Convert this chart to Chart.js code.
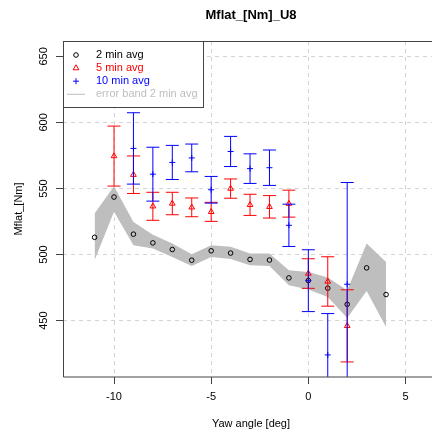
<!DOCTYPE html>
<html lang="en">
<head>
<meta charset="UTF-8">
<title>Mflat_[Nm]_U8</title>
<script src="https://cdn.jsdelivr.net/npm/chart.js"></script>
<style>
  html, body { margin: 0; padding: 0; background: #fff; overflow: hidden; }
  canvas { display: block; }
</style>
</head>
<body>
<canvas id="mflatChart" width="432" height="435"></canvas>
<script>
// 2 min averages with their +/- band
const yaw2 = [-11, -10, -9, -8, -7, -6, -5, -4, -3, -2, -1, 0, 1, 2, 3, 4];
const mean2 = [513.0, 543.5, 515.4, 508.8, 503.8, 495.7, 502.8, 501.1, 496.3, 495.8, 482.3, 480.3, 474.5, 462.3, 489.9, 469.7];
const bandHi = [531.0, 551.7, 524.7, 515.0, 508.3, 500.2, 507.0, 505.8, 500.7, 500.7, 488.0, 486.8, 482.6, 473.0, 508.3, 494.4];
const bandLo = [495.7, 532.3, 507.0, 504.5, 498.2, 491.4, 498.2, 496.7, 491.9, 491.4, 476.7, 473.5, 467.9, 452.0, 472.4, 445.2];

// 5 min averages and error
const yaw5 = [-10, -9, -8, -7, -6, -5, -4, -3, -2, -1, 0, 1, 2];
const mean5 = [574.5, 560.4, 536.5, 538.6, 535.7, 532.3, 549.9, 537.6, 536.1, 538.5, 485.6, 479.6, 446.0];
const err5 = [22.7, 14.2, 10.6, 8.5, 7.1, 7.2, 7.3, 8.0, 8.5, 10.2, 11.2, 18.7, 27.3];

// 10 min averages and error
const yaw10 = [-9, -8, -7, -6, -5, -4, -3, -2, -1, 0, 1, 2];
const mean10 = [580.3, 560.8, 569.7, 573.1, 549.0, 578.0, 565.0, 565.7, 522.1, 480.2, 424.0, 477.5];
const err10 = [27.0, 20.4, 12.9, 10.5, 10.1, 11.4, 11.2, 13.4, 16.0, 23.4, 31.3, 77.0];

const xTicks = [-10, -5, 0, 5];
const yTicks = [450, 500, 550, 600, 650];

const legendLabels = ['2 min avg', '5 min avg', '10 min avg', 'error band 2 min avg'];
const legendColors = ['#000000', '#FF0000', '#0000FF', '#BEBEBE'];

const FONT = "'Liberation Sans', Arial, Helvetica, sans-serif";
const BAND = '#BEBEBE';
const CAP = 6.5;
const TEXT_CX = 251;   // horizontal centre for the main and x-axis titles

Chart.defaults.font.family = FONT;
Chart.defaults.font.size = 11;
Chart.defaults.color = '#000';

const toXY = (xs, ys) => xs.map((x, i) => ({ x: x, y: ys[i] }));

// error bars for the 5 and 10 min series
const barSets = [
    { xs: yaw5, mean: mean5, err: err5, color: '#FF0000' },
    { xs: yaw10, mean: mean10, err: err10, color: '#0000FF' }
];

const errorBars = {
    id: 'errorBars',
    afterDatasetsDraw(chart) {
        const { ctx, chartArea: a, scales: { x, y } } = chart;
        ctx.save();
        ctx.beginPath();
        ctx.rect(a.left, a.top, a.right - a.left, a.bottom - a.top);
        ctx.clip();
        ctx.lineWidth = 1;
        barSets.forEach(s => {
            ctx.strokeStyle = s.color;
            s.xs.forEach((xv, i) => {
                const px = x.getPixelForValue(xv);
                const top = y.getPixelForValue(s.mean[i] + s.err[i]);
                const bot = y.getPixelForValue(s.mean[i] - s.err[i]);
                ctx.beginPath();
                ctx.moveTo(px, top); ctx.lineTo(px, bot);
                ctx.moveTo(px - CAP, top); ctx.lineTo(px + CAP, top);
                ctx.moveTo(px - CAP, bot); ctx.lineTo(px + CAP, bot);
                ctx.stroke();
            });
        });
        ctx.restore();
    }
};

// plot box, titles and the boxed legend in the top-left corner
const frame = {
    id: 'frame',
    afterDraw(chart) {
        const { ctx, chartArea: a } = chart;
        ctx.save();
        ctx.strokeStyle = '#444';
        ctx.lineWidth = 1;
        ctx.beginPath();
        ctx.moveTo(a.right + 1, a.top + 0.5);
        ctx.lineTo(a.left + 0.5, a.top + 0.5);
        ctx.lineTo(a.left + 0.5, a.bottom);
        ctx.lineTo(a.right + 1, a.bottom);
        ctx.stroke();

        ctx.fillStyle = '#000';
        ctx.font = 'bold 13px ' + FONT;
        ctx.textAlign = 'center';
        ctx.textBaseline = 'middle';
        ctx.fillText('Mflat_[Nm]_U8', TEXT_CX, 15);

        ctx.font = '11px ' + FONT;
        ctx.fillText('Yaw angle [deg]', TEXT_CX, 424);

        // legend
        const lw = 140, lh = 66;
        ctx.fillStyle = '#fff';
        ctx.fillRect(a.left, a.top, lw, lh);
        ctx.strokeRect(a.left + 0.5, a.top + 0.5, lw, lh);
        const styles = ['circle', 'triangle', 'cross', null];
        const radii = [2.3, 3.3, 3, 0];
        ctx.textAlign = 'left';
        legendLabels.forEach((label, i) => {
            const ly = a.top + 14 + i * 13.1;
            ctx.strokeStyle = legendColors[i];
            ctx.fillStyle = 'rgba(0,0,0,0)';
            if (styles[i]) {
                Chart.helpers.drawPoint(ctx, { pointStyle: styles[i], radius: radii[i], borderWidth: 1, rotation: 0 }, a.left + 13, ly);
            } else {
                ctx.beginPath();
                ctx.moveTo(a.left + 4, ly);
                ctx.lineTo(a.left + 22, ly);
                ctx.stroke();
            }
            ctx.fillStyle = legendColors[i];
            ctx.fillText(label, a.left + 33, ly);
        });
        ctx.restore();
    }
};

const gridOpts = {
    color: '#D3D3D3',
    lineWidth: 1,
    tickLength: 7,
    tickColor: '#444',
    tickWidth: 1,
    tickBorderDash: []
};

// fixed scale sizes, no extra room for overhanging labels
const fixSize = (w, h) => s => {
    if (w !== null) s.width = w;
    if (h !== null) s.height = h;
    s.paddingLeft = 0;
    s.paddingRight = 0;
    s.paddingTop = 0;
    s.paddingBottom = 0;
};

new Chart(document.getElementById('mflatChart'), {
    type: 'scatter',
    data: {
        datasets: [
            {
                type: 'line',
                label: 'band hi',
                data: toXY(yaw2, bandHi),
                borderColor: 'transparent',
                backgroundColor: BAND,
                pointRadius: 0,
                tension: 0,
                fill: '+1',
                order: 10
            },
            {
                type: 'line',
                label: 'band lo',
                data: toXY(yaw2, bandLo),
                borderColor: 'transparent',
                backgroundColor: BAND,
                pointRadius: 0,
                tension: 0,
                fill: false,
                order: 10
            },
            {
                label: '2 min avg',
                data: toXY(yaw2, mean2),
                pointStyle: 'circle',
                pointRadius: 2.3,
                borderColor: '#000',
                backgroundColor: 'transparent',
                borderWidth: 1,
                order: 3
            },
            {
                label: '5 min avg',
                data: toXY(yaw5, mean5),
                pointStyle: 'triangle',
                pointRadius: 3.3,
                borderColor: '#FF0000',
                backgroundColor: 'transparent',
                borderWidth: 1,
                order: 2
            },
            {
                label: '10 min avg',
                data: toXY(yaw10, mean10),
                pointStyle: 'cross',
                pointRadius: 3,
                borderColor: '#0000FF',
                backgroundColor: 'transparent',
                borderWidth: 1,
                order: 1
            }
        ]
    },
    options: {
        responsive: false,
        animation: false,
        events: [],
        layout: { autoPadding: false, padding: { top: 41, left: 0, right: 0, bottom: 0 } },
        plugins: {
            legend: { display: false },
            tooltip: { enabled: false },
            title: { display: false }
        },
        scales: {
            x: {
                type: 'linear',
                min: -12.625,
                max: 6.364,
                afterFit: fixSize(null, 58),
                afterBuildTicks: s => { s.ticks = xTicks.map(v => ({ value: v })); },
                grid: gridOpts,
                border: { display: false, dash: [4, 4] },
                ticks: { padding: 6, maxRotation: 0, autoSkip: false, color: '#000' }
            },
            y: {
                type: 'linear',
                min: 407.3,
                max: 661.6,
                afterFit: fixSize(63, null),
                afterBuildTicks: s => { s.ticks = yTicks.map(v => ({ value: v })); },
                grid: gridOpts,
                border: { display: false, dash: [4, 4] },
                ticks: { padding: 3, minRotation: 90, maxRotation: 90, crossAlign: 'center', autoSkip: false, color: '#000' },
                title: { display: true, text: 'Mflat_[Nm]', color: '#000', padding: { top: 12, bottom: 0 } }
            }
        }
    },
    plugins: [errorBars, frame]
});
</script>
</body>
</html>
